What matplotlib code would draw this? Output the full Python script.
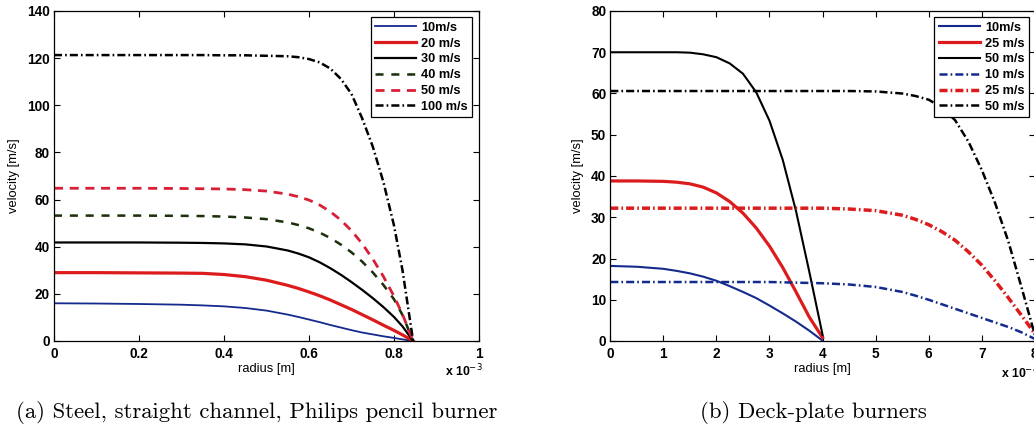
import matplotlib
matplotlib.use("Agg")
import matplotlib.pyplot as plt
from matplotlib.legend_handler import HandlerTuple

plt.rcParams["lines.scale_dashes"] = False
plt.rcParams["font.family"] = ["Liberation Sans", "DejaVu Sans"]

# ---------------- (a) Philips pencil burner, radius in units of 1e-3 m ----------------
r_a = [0, 0.1, 0.2, 0.3, 0.35, 0.4, 0.45, 0.5, 0.55, 0.575, 0.6, 0.625, 0.65,
       0.675, 0.7, 0.725, 0.75, 0.775, 0.8, 0.82, 0.845]
u_a_10 = [16.0, 15.9, 15.7, 15.4, 15.1, 14.7, 14.0, 12.9, 11.2, 10.2, 9.1, 8.0,
          6.8, 5.7, 4.6, 3.6, 2.8, 2.0, 1.3, 0.7, 0.0]
u_a_20 = [29.0, 29.0, 28.9, 28.8, 28.7, 28.2, 27.3, 25.8, 23.6, 22.3, 20.8, 19.2,
          17.4, 15.4, 13.4, 11.2, 9.0, 6.7, 4.5, 2.6, 0.0]
u_a_30 = [41.8, 41.8, 41.8, 41.7, 41.6, 41.4, 41.0, 40.1, 38.4, 37.1, 35.5, 33.4,
          30.9, 28.1, 25.0, 21.7, 18.2, 14.4, 10.2, 6.2, 0.0]
u_a_40 = [53.2, 53.2, 53.2, 53.1, 53.0, 52.8, 52.4, 51.7, 50.3, 49.2, 47.8, 46.0,
          43.7, 40.9, 37.6, 33.7, 29.1, 23.8, 17.7, 11.0, 0.0]
u_a_50 = [64.8, 64.8, 64.8, 64.7, 64.6, 64.5, 64.2, 63.6, 62.3, 61.2, 59.8, 57.7,
          54.9, 51.3, 46.8, 41.3, 34.8, 27.4, 19.0, 11.3, 0.0]
u_a_100 = [121.3, 121.3, 121.3, 121.3, 121.3, 121.2, 121.2, 121.0, 120.8, 120.4,
           119.6, 118.2, 115.6, 111.2, 104.8, 94.5, 82.5, 67.5, 49.0, 30.0, 0.0]
labels_a = ["10m/s", "20 m/s", "30 m/s", "40 m/s", "50 m/s", "100 m/s"]
xticks_a = [0, 0.2, 0.4, 0.6, 0.8, 1]
xticklabels_a = ["0", "0.2", "0.4", "0.6", "0.8", "1"]
yticks_a = [0, 20, 40, 60, 80, 100, 120, 140]

# ---------------- (b) Deck-plate burners, radius in units of 1e-4 m ----------------
r_b_small = [0, 0.5, 1, 1.25, 1.5, 1.75, 2, 2.25, 2.5, 2.75, 3, 3.25, 3.5, 3.75, 4]
u_b_10 = [18.2, 18.0, 17.5, 17.0, 16.4, 15.6, 14.6, 13.3, 11.9, 10.4, 8.6, 6.7,
          4.7, 2.5, 0.1]
u_b_25 = [38.8, 38.8, 38.7, 38.5, 38.1, 37.3, 35.9, 33.8, 31.0, 27.4, 23.0, 17.8,
          11.9, 5.8, 0.8]
u_b_50 = [70.0, 70.0, 70.0, 70.0, 69.9, 69.5, 68.8, 67.3, 64.8, 60.3, 53.4, 43.9,
          31.5, 16.8, 1.5]

r_b_large = [0, 1, 2, 3, 4, 4.5, 5, 5.5, 5.75, 6, 6.25, 6.5, 6.75, 7, 7.25, 7.5,
             7.75, 8]
u_b_10_wide = [14.3, 14.3, 14.3, 14.3, 14.0, 13.7, 13.1, 11.9, 11.0, 10.0, 8.9,
               7.8, 6.7, 5.6, 4.5, 3.4, 2.1, 0.5]
u_b_25_wide = [32.2, 32.2, 32.2, 32.2, 32.2, 32.0, 31.6, 30.5, 29.5, 28.2, 26.5,
               24.4, 21.6, 18.4, 14.6, 10.5, 6.2, 1.8]
u_b_50_wide = [60.6, 60.6, 60.6, 60.6, 60.6, 60.6, 60.5, 60.0, 59.4, 58.5, 56.6,
               53.5, 48.3, 41.5, 33.5, 24.2, 13.0, 1.5]
labels_b = ["10m/s", "25 m/s", "50 m/s", "10 m/s", "25 m/s", "50 m/s"]
xticks_b = [0, 1, 2, 3, 4, 5, 6, 7, 8]
yticks_b = [0, 10, 20, 30, 40, 50, 60, 70, 80]

BLUE = "#142a8c"
RED = "#dc1c1c"
RED_DASH = "#d81f36"
BLACK = "#000000"
GREEN_DARK = "#1c3010"
GREEN_LIGHT = "#8fbd2a"

DASHDOT = (0, (5.8, 2.2, 1.2, 2.2))
DASHED = (0, (6.5, 4.8))

W, H = 1034, 429
fig = plt.figure(figsize=(W / 100, H / 100), dpi=100)

ax_a = fig.add_axes([54 / W, (H - 341) / H, 425 / W, 330 / H])
ax_b = fig.add_axes([610.3 / W, (H - 341) / H, 424.5 / W, 330 / H])

# panel (a)
h1, = ax_a.plot(r_a, u_a_10, color=BLUE, lw=1.3)
h2, = ax_a.plot(r_a, u_a_20, color=RED, lw=2.3)
h3, = ax_a.plot(r_a, u_a_30, color=BLACK, lw=1.6)
h4a, = ax_a.plot(r_a, u_a_40, color=GREEN_LIGHT, lw=1.6, linestyle=(9.2, (1.2, 10.2)))
h4b, = ax_a.plot(r_a, u_a_40, color=GREEN_DARK, lw=1.8, linestyle=(0, (5.8, 5.6)))
h5, = ax_a.plot(r_a, u_a_50, color=RED_DASH, lw=2.0, linestyle=DASHED)
h6, = ax_a.plot(r_a, u_a_100, color=BLACK, lw=1.8, linestyle=DASHDOT)

# panel (b)
g1, = ax_b.plot(r_b_small, u_b_10, color=BLUE, lw=1.5)
g2, = ax_b.plot(r_b_small, u_b_25, color=RED, lw=2.3)
g3, = ax_b.plot(r_b_small, u_b_50, color=BLACK, lw=1.5)
g4, = ax_b.plot(r_b_large, u_b_10_wide, color=BLUE, lw=1.8, linestyle=DASHDOT)
g5, = ax_b.plot(r_b_large, u_b_25_wide, color=RED, lw=2.5, linestyle=DASHDOT)
g6, = ax_b.plot(r_b_large, u_b_50_wide, color=BLACK, lw=1.8, linestyle=DASHDOT)

tick_font = dict(family="Liberation Sans", weight="bold", size=9.8)

for ax, xt, xtl, yt, xmax, ymax in [
    (ax_a, xticks_a, xticklabels_a, yticks_a, 1, 140),
    (ax_b, xticks_b, [str(v) for v in xticks_b], yticks_b, 8, 80),
]:
    ax.set_xlim(0, xmax)
    ax.set_ylim(0, ymax)
    ax.set_xticks(xt)
    ax.set_xticklabels(xtl, fontdict=tick_font)
    ax.set_yticks(yt)
    ax.set_yticklabels([str(v) for v in yt], fontdict=tick_font)
    ax.tick_params(direction="in", length=4, width=0.8, top=True, right=True,
                   pad=3)
    ax.tick_params(axis="x", pad=4)
    for s in ax.spines.values():
        s.set_linewidth(0.9)
    ax.set_xlabel("radius [m]", fontsize=9.3, labelpad=2)
    ax.set_ylabel("velocity [m/s]", fontsize=9.3, labelpad=5)

leg_kw = dict(loc="upper right", borderaxespad=0, fancybox=False, framealpha=1,
              edgecolor="black", handlelength=3.2, handletextpad=0.4,
              labelspacing=0.3, borderpad=0.35,
              prop=dict(family="Liberation Sans", weight="bold", size=9.2))

leg_a = ax_a.legend([h1, h2, h3, (h4a, h4b), h5, h6], labels_a,
                    bbox_to_anchor=(0.984, 0.981),
                    handler_map={tuple: HandlerTuple(ndivide=1)}, **leg_kw)
leg_a.get_frame().set_linewidth(0.9)

leg_b = ax_b.legend([g1, g2, g3, g4, g5, g6], labels_b,
                    bbox_to_anchor=(0.986, 0.981), **leg_kw)
leg_b.get_frame().set_linewidth(0.9)

# MATLAB-style exponent labels under the x axes
fig.text(445 / W, (H - 371) / H, r"x 10$^{-3}$", fontsize=8.8, weight="bold",
         va="center", ha="left")
fig.text(1001 / W, (H - 373) / H, r"x 10$^{-4}$", fontsize=8.8, weight="bold",
         va="center", ha="left")

# sub-figure captions
fig.text(257 / W, (H - 413) / H,
         "(a) Steel, straight channel, Philips pencil burner",
         family="cmr10", fontsize=16.4, ha="center", va="center")
fig.text(813 / W, (H - 413) / H, "(b) Deck-plate burners",
         family="cmr10", fontsize=16.4, ha="center", va="center")

fig.savefig("out.png", dpi=100)
